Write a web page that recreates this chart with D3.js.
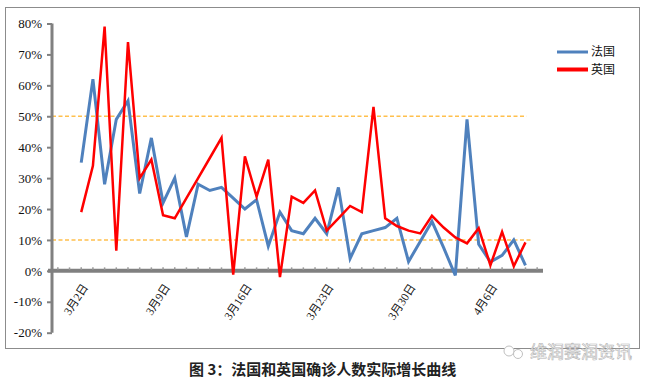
<!DOCTYPE html>
<html>
<head>
<meta charset="utf-8">
<script src="https://cdn.jsdelivr.net/npm/d3@7/dist/d3.min.js"></script>
<style>
  html, body { margin: 0; padding: 0; background: #fff; }
  svg { display: block; }
</style>
</head>
<body>
<svg id="chart" width="649" height="382"></svg>
<script>
// ---- data ----
const days = ["2月29日","3月1日","3月2日","3月3日","3月4日","3月5日","3月6日","3月7日","3月8日","3月9日",
  "3月10日","3月11日","3月12日","3月13日","3月14日","3月15日","3月16日","3月17日","3月18日","3月19日",
  "3月20日","3月21日","3月22日","3月23日","3月24日","3月25日","3月26日","3月27日","3月28日","3月29日",
  "3月30日","3月31日","4月1日","4月2日","4月3日","4月4日","4月5日","4月6日","4月7日","4月8日",
  "4月9日","4月10日"];
const dataDates = ["3月2日","3月3日","3月4日","3月5日","3月6日","3月7日","3月8日","3月9日",
  "3月10日","3月11日","3月12日","3月13日","3月14日","3月15日","3月16日","3月17日","3月18日","3月19日",
  "3月20日","3月21日","3月22日","3月23日","3月24日","3月25日","3月26日","3月27日","3月28日","3月29日",
  "3月30日","3月31日","4月1日","4月2日","4月3日","4月4日","4月5日","4月6日","4月7日","4月8日","4月9日"];
const france = [35,62,28,49,55,25,43,22,30,11,28,26,27,23.5,20,23,8,19,13,12,17,12,27,4,12,13,14,17,3,9.5,16,7.5,-1.5,49,8.6,2.9,5,10,1.8];
const uk     = [19,34,79,6.5,74,30,36,18,17,23.5,30,36.5,43,-1.2,37,24,36,-2,24,22,26,13,17,21,19,53,17,14.5,13,12.1,17.8,14,10.8,8.9,13.8,1.8,12.6,1.5,9.2];
const seriesNames = ["法国","英国"];
const tickLabels = ["3月2日","3月9日","3月16日","3月23日","3月30日","4月6日"];
const yTicks = [-20,-10,0,10,20,30,40,50,60,70,80];
const refLines = [50,10];
const caption = "图 3：法国和英国确诊人数实际增长曲线";
const watermark = "维润赛润资讯";

// ---- drawing ----
const svg = d3.select("#chart");
svg.append("rect").attr("width",649).attr("height",382).attr("fill","#fff");
svg.append("rect").attr("x",5.5).attr("y",7.5).attr("width",634).attr("height",341)
  .attr("fill","none").attr("stroke","#8c8c8c").attr("stroke-width",1);

const x = d3.scaleBand().domain(days).range([52, 543]).paddingInner(0).paddingOuter(0);
const cx = d => x(d) + x.bandwidth()/2;
const y = d3.scaleLinear().domain([-20, 80]).range([332.7, 23.5]);

const axisColor = "#808080";

// reference dashed lines
const refEnds = {50: ["4月8日", 1.6], 10: ["4月9日", 1.1]};
refLines.forEach(v => {
  svg.append("line")
    .attr("x1", 52).attr("x2", x(refEnds[v][0]) + x.bandwidth()*refEnds[v][1])
    .attr("y1", y(v)).attr("y2", y(v))
    .attr("stroke", "#FFC04D").attr("stroke-width", 1.5)
    .attr("stroke-dasharray", "4,2.5");
});

// y axis
const yAxis = d3.axisLeft(y).tickValues(yTicks).tickSize(5).tickFormat(d => d + "%");
const gy = svg.append("g").attr("transform","translate(52,0)").call(yAxis);
gy.select(".domain").attr("stroke", axisColor).attr("stroke-width", 3)
  .attr("d", `M0,${y(80)}V${y(-20)}`);
gy.selectAll(".tick line").attr("stroke", axisColor).attr("stroke-width", 2);
gy.selectAll(".tick text")
  .attr("x", -10)
  .attr("font-family", "'Liberation Serif', 'Times New Roman', serif")
  .attr("font-size", 13).attr("fill", "#111");

// zero line with category ticks
const gx = svg.append("g").attr("transform", `translate(0,${y(0)})`);
gx.append("line").attr("x1", 48).attr("x2", 543).attr("y1", 0).attr("y2", 0)
  .attr("stroke", axisColor).attr("stroke-width", 4);
gx.selectAll("line.ct").data(days).enter().append("line").attr("class","ct")
  .attr("x1", d => cx(d)).attr("x2", d => cx(d)).attr("y1", -3.5).attr("y2", -1)
  .attr("stroke", "#999").attr("stroke-width", 1.5);

// x labels
svg.append("g").selectAll("text").data(tickLabels).enter().append("text")
  .attr("transform", d => `translate(${cx(d)+4},${y(0)+14}) rotate(-57)`)
  .attr("text-anchor", "end").attr("dy", "0.35em")
  .attr("font-family", "'Liberation Serif', 'Noto Sans CJK SC', serif")
  .attr("font-size", 11.5).attr("fill", "#111")
  .text(d => d);

// lines
const line = d3.line().x((d,i) => cx(dataDates[i])).y(d => y(d));
svg.append("path").datum(france).attr("d", line)
  .attr("fill","none").attr("stroke","#4F81BD").attr("stroke-width",3).attr("stroke-linejoin","miter");
svg.append("path").datum(uk).attr("d", line)
  .attr("fill","none").attr("stroke","#FF0000").attr("stroke-width",2.5).attr("stroke-linejoin","miter");

// legend
const legColors = ["#4F81BD","#FF0000"];
const lg = svg.append("g");
seriesNames.forEach((n,i) => {
  const yy = 52 + i*17.5;
  lg.append("line").attr("x1",557).attr("x2",588).attr("y1",yy).attr("y2",yy)
    .attr("stroke", legColors[i]).attr("stroke-width", i===0?3:4);
  lg.append("text").attr("x",591).attr("y",yy).attr("dy","0.36em")
    .attr("font-family","'Noto Sans CJK SC', sans-serif").attr("font-size",12).attr("fill","#111")
    .text(n);
});

// caption
svg.append("text").attr("x", 189).attr("y", 370).attr("dy","0.35em")
  .attr("font-family","'Noto Sans CJK SC', sans-serif").attr("font-weight","bold")
  .attr("font-size",15).attr("fill","#222").text(caption);

// watermark
const wm = svg.append("g");
wm.append("circle").attr("cx",509).attr("cy",351).attr("r",5).attr("fill","#fff").attr("stroke","#c0c0c0").attr("stroke-width",1);
wm.append("circle").attr("cx",518).attr("cy",354).attr("r",4.5).attr("fill","#fff").attr("stroke","#c0c0c0").attr("stroke-width",1);
wm.append("text").attr("x",530).attr("y",352).attr("dy","0.35em")
  .attr("font-family","'Noto Sans CJK SC', sans-serif").attr("font-size",17)
  .attr("fill","#fff").attr("stroke","#b4b4b4").attr("stroke-width",0.6)
  .text(watermark);
</script>
</body>
</html>
